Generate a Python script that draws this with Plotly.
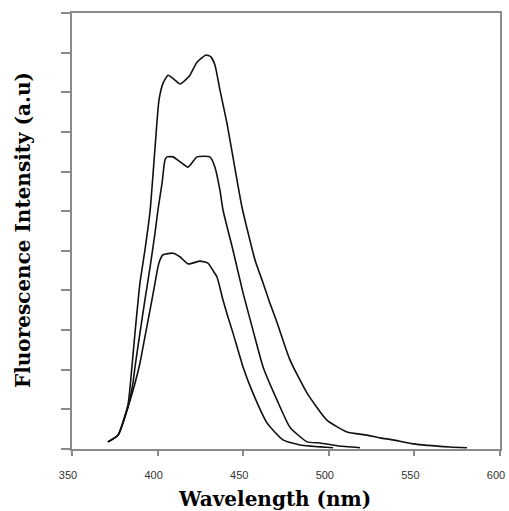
import plotly.graph_objects as go

# Wavelength (nm) and intensity (a.u., one y-tick = 100)
wl_a = [371.0, 376.9, 382.7, 385.0, 386.8, 389.7, 392.6, 395.6, 398.5, 400.8, 403.2, 406.1,
        409.0, 413.1, 416.0, 418.9, 423.0, 428.3, 431.0, 433.5, 436.4, 440.5, 444.0, 449.3,
        456.9, 461.6, 465.6, 469.7, 477.3, 487.3, 498.9, 510.6, 522.3, 530.0, 537.5, 549.2,
        570.8, 580.7]
int_a = [18, 35, 112, 207, 293, 419, 502, 600, 760, 880, 923, 943,
         935, 921, 930, 943, 976, 994, 990, 969, 906, 822, 737, 610,
         477, 419, 368, 320, 225, 141, 73, 43, 35, 28, 23, 13,
         5, 3]

wl_b = [371.0, 376.9, 382.7, 385.6, 386.8, 389.7, 392.6, 395.6, 398.5, 400.2, 402.6, 404.3,
        405.5, 409.0, 413.0, 417.8, 423.0, 430.6, 433.5, 436.4, 438.2, 444.0, 449.9, 455.7,
        461.6, 469.7, 477.3, 487.3, 494.9, 505.0, 518.2]
int_b = [18, 35, 106, 166, 207, 293, 376, 459, 545, 603, 671, 729,
         737, 737, 725, 711, 737, 737, 711, 653, 603, 502, 394, 300,
         207, 124, 55, 18, 15, 8, 3]

wl_c = [371.0, 376.9, 382.7, 386.8, 389.7, 392.6, 395.6, 398.5, 400.2, 401.4, 403.2, 409.0,
        413.0, 417.8, 424.8, 429.4, 432.4, 434.7, 438.2, 441.1, 444.0, 449.9, 455.7, 463.9,
        473.2, 483.2, 502.5]
int_c = [18, 35, 106, 166, 217, 283, 351, 419, 459, 477, 490, 494,
         485, 467, 474, 469, 450, 434, 376, 333, 293, 207, 141, 66,
         23, 10, 3]

x_ticks = [350, 400, 450, 500, 550, 600]

fig = go.Figure()
for wl, inten in [(wl_a, int_a), (wl_b, int_b), (wl_c, int_c)]:
    fig.add_trace(go.Scatter(x=wl, y=inten, mode="lines",
                             line=dict(color="#111111", width=1.6, shape="spline",
                                       smoothing=0.5),
                             showlegend=False, hoverinfo="skip"))

axis_col = "#8a8a8a"
title_font = dict(family="DejaVu Serif", size=20, color="black")
fig.update_layout(
    width=509, height=511,
    margin=dict(l=72, r=9, t=13, b=62),
    paper_bgcolor="white", plot_bgcolor="white",
    xaxis=dict(range=[350, 600], tickvals=x_ticks, ticktext=[str(v) for v in x_ticks],
               showgrid=False, zeroline=False, showline=True, linecolor=axis_col,
               linewidth=2, mirror=True, ticks="outside", ticklen=5, tickwidth=1.5,
               tickcolor=axis_col, automargin=False,
               ticklabelstandoff=10, ticklabelshift=-4,
               tickfont=dict(family="Liberation Sans, Arial", size=11, color="#333333")),
    yaxis=dict(range=[0, 1100], tick0=0, dtick=100, showticklabels=False,
               showgrid=False, zeroline=False, showline=True, linecolor=axis_col,
               linewidth=2, mirror=True, ticks="outside", ticklen=9, tickwidth=1.5,
               tickcolor=axis_col, automargin=False),
    annotations=[
        dict(text="<b>Wavelength (nm)</b>", xref="paper", yref="paper",
             x=(274.5 - 72) / 428, y=-(499 - 449) / 436, xanchor="center", yanchor="middle",
             showarrow=False, font=title_font),
        dict(text="<b>Fluorescence Intensity (a.u)</b>", xref="paper", yref="paper",
             x=-(72 - 23) / 428, y=(449 - 230) / 436, xanchor="center", yanchor="middle",
             textangle=-90, showarrow=False, font=title_font),
    ],
)

fig.write_html("out.html", config={"displayModeBar": False},
               post_script="document.body.style.margin='0px';")
